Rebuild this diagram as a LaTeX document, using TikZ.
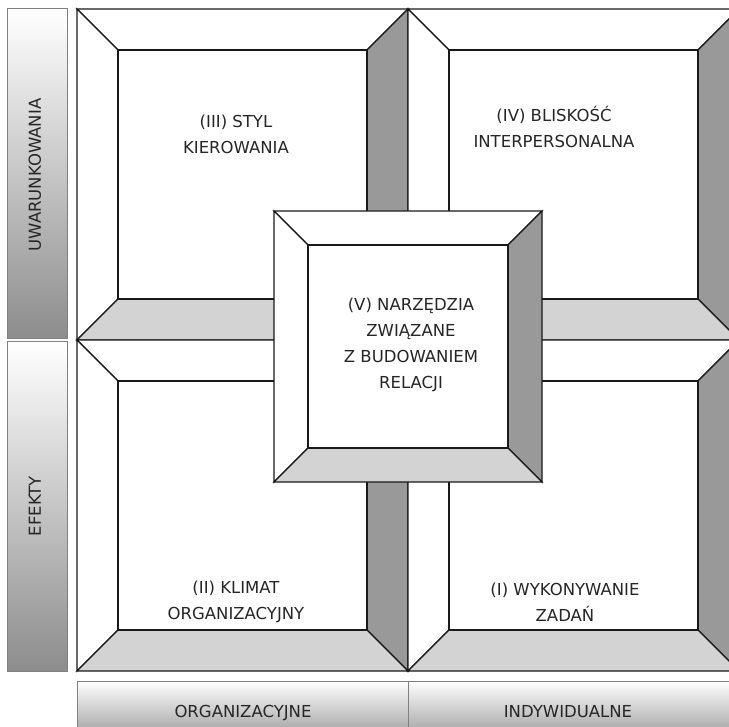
\documentclass[tikz,border=0pt]{standalone}
\usepackage{fontspec}
\setmainfont{DejaVu Sans}
\definecolor{darkbevel}{HTML}{999999}
\definecolor{lightbevel}{HTML}{D3D3D3}
\definecolor{boxline}{HTML}{808080}
\newcommand\bevelpanel[5]{%
  \filldraw[panel,fill=white] (#1,#2) -- (#3,#2) -- ({#3-#5},{#2+#5}) -- ({#1+#5},{#2+#5}) -- cycle;
  \filldraw[panel,fill=white] (#1,#2) -- ({#1+#5},{#2+#5}) -- ({#1+#5},{#4-#5}) -- (#1,#4) -- cycle;
  \filldraw[panel,fill=darkbevel] (#3,#2) -- (#3,#4) -- ({#3-#5},{#4-#5}) -- ({#3-#5},{#2+#5}) -- cycle;
  \filldraw[panel,fill=lightbevel] (#1,#4) -- (#3,#4) -- ({#3-#5},{#4-#5}) -- ({#1+#5},{#4-#5}) -- cycle;
  \filldraw[panel,fill=white] ({#1+#5},{#2+#5}) rectangle ({#3-#5},{#4-#5});
}
\begin{document}
\begin{tikzpicture}[x=1pt,y=-1pt,
  panel/.style={draw=black!90,line width=1.2pt,line join=miter},
  sidebox/.style={draw=boxline,line width=1pt,shading=axis,top color=white,middle color=black!12,bottom color=black!45},
  footbox/.style={draw=boxline,line width=1pt,shading=axis,top color=white,bottom color=black!40},
  lbl/.style={font=\fontsize{16.5}{26}\selectfont,align=center,text=black!85}]
\useasboundingbox (0,0) rectangle (729,727);
\clip (0,0) rectangle (729,727);
% side label boxes
\path[sidebox] (7,9) rectangle (67,339);
\path[sidebox] (7,342) rectangle (67,671);
\node[lbl,rotate=90,anchor=base] (uw) at (41,175) {UWARUNKOWANIA};
\node[lbl,rotate=90,anchor=base] (ef) at (41,506) {EFEKTY};
% bottom label boxes
\path[footbox] (77,681) rectangle (408,740);
\path[footbox] (408,681) rectangle (739,740);
\node[lbl,anchor=base] (org) at (243,717) {ORGANIZACYJNE};
\node[lbl,anchor=base] (ind) at (568,717) {INDYWIDUALNE};
% four panels
\bevelpanel{77}{9}{408}{340}{41}
\bevelpanel{408}{9}{739}{340}{41}
\bevelpanel{77}{340}{408}{671}{41}
\bevelpanel{408}{340}{739}{671}{41}
% centre panel
\bevelpanel{274}{211}{542}{482}{34}
% texts
\node[lbl] (p3) at (236,134) {(III) STYL\\KIEROWANIA};
\node[lbl] (p4) at (554,127) {(IV) BLISKOŚĆ\\INTERPERSONALNA};
\node[lbl] (p5) at (411,345) {(V) NARZĘDZIA\\ZWIĄZANE\\Z BUDOWANIEM\\RELACJI};
\node[lbl] (p2) at (236,602) {(II) KLIMAT\\ORGANIZACYJNY};
\node[lbl] (p1) at (565,602) {(I) WYKONYWANIE\\ZADAŃ};
\end{tikzpicture}
\end{document}
